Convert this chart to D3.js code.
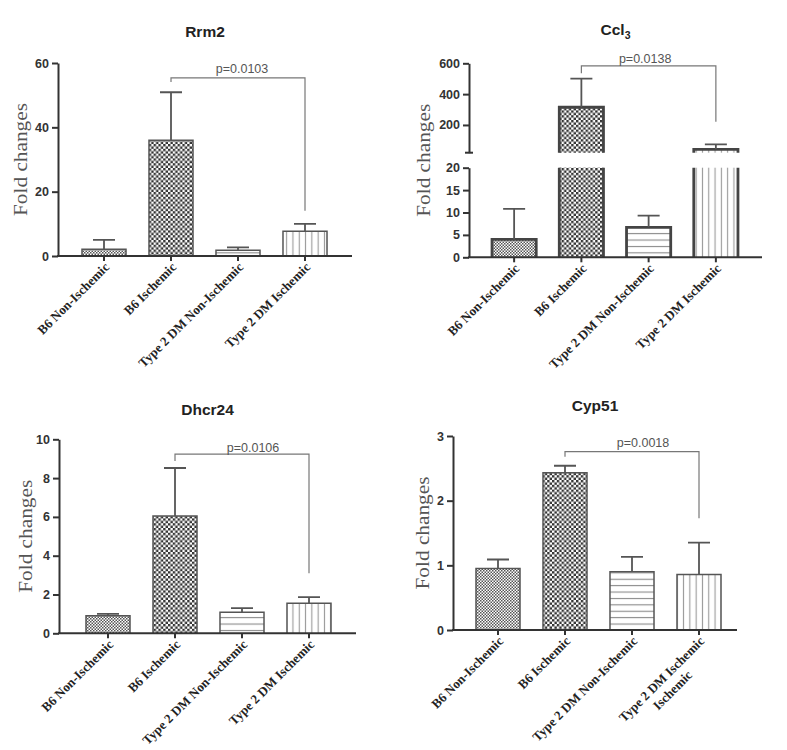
<!DOCTYPE html>
<html><head><meta charset="utf-8">
<script src="https://cdn.jsdelivr.net/npm/d3@7"></script>
<style>body{margin:0;background:#fff} svg{display:block}</style>
</head><body><svg id="c" width="787" height="750"></svg>
<script>
const categories = ["B6 Non-Ischemic","B6 Ischemic","Type 2 DM Non-Ischemic","Type 2 DM Ischemic"];
const cyp51Labels = ["B6 Non-Ischemic","B6 Ischemic","Type 2 DM Non-Ischemic","Type 2 DM Ischemic|Ischemic"];
const rrm2Mean = [2.1, 36.0, 1.8, 7.7];
const rrm2Err  = [2.9, 14.9, 0.9, 2.3];
const ccl3Mean = [4.0, 315, 6.7, 42];
const ccl3Err  = [6.8, 185, 2.6, 32];
const dhcr24Mean = [0.91, 6.05, 1.08, 1.55];
const dhcr24Err  = [0.09, 2.47, 0.22, 0.31];
const cyp51Mean = [0.95, 2.43, 0.90, 0.86];
const cyp51Err  = [0.14, 0.11, 0.23, 0.49];
const rrm2Ticks = [0,20,40,60];
const ccl3LowTicks = [0,5,10,15,20];
const ccl3HighTicks = [200,400,600];
const dhcr24Ticks = [0,2,4,6,8,10];
const cyp51Ticks = [0,1,2,3];
const pLabels = ["p=0.0103","p=0.0138","p=0.0106","p=0.0018"];
// [bar a, bar b, line value, left leg end, right leg end]
const rrm2Bracket = [1,3,55.4,54.1,14.1];
const ccl3Bracket = [1,3,583,535,221];
const dhcr24Bracket = [1,3,9.24,8.88,3.09];
const cyp51Bracket = [1,3,2.757,2.68,1.727];

const svg = d3.select("#c");
const defs = svg.append("defs");
function checker(id, s, color){
  const p = defs.append("pattern").attr("id",id).attr("patternUnits","userSpaceOnUse")
    .attr("width",s*2).attr("height",s*2);
  p.append("rect").attr("width",s*2).attr("height",s*2).attr("fill","#fff");
  p.append("rect").attr("width",s).attr("height",s).attr("fill",color);
  p.append("rect").attr("x",s).attr("y",s).attr("width",s).attr("height",s).attr("fill",color);
}
checker("fine",1.5,"#555");
checker("coarse",2.4,"#333");
{
  const p = defs.append("pattern").attr("id","hl").attr("patternUnits","userSpaceOnUse").attr("width",8).attr("height",6.4);
  p.append("rect").attr("width",8).attr("height",6.4).attr("fill","#fff");
  p.append("rect").attr("y",2.7).attr("width",8).attr("height",1.1).attr("fill","#888");
  const q = defs.append("pattern").attr("id","vl").attr("patternUnits","userSpaceOnUse").attr("width",6.3).attr("height",8);
  q.append("rect").attr("width",6.3).attr("height",8).attr("fill","#fff");
  q.append("rect").attr("x",2.6).attr("width",1.1).attr("height",8).attr("fill","#999");
}
const fills = ["url(#fine)","url(#coarse)","url(#hl)","url(#vl)"];

const panels = [
 {title:"Rrm2", mean:rrm2Mean, err:rrm2Err, segs:[{d:[0,60], r:[256,63], ticks:rrm2Ticks}],
  x0:58, x1:352, band:[70.5,338.5], titleY:37, ylx:27, bracket:rrm2Bracket, p:pLabels[0], pdx:4, pdy:-4.7, sw:1.5, stroke:"#555", labels:categories},
 {title:"Ccl", sub:"3", mean:ccl3Mean, err:ccl3Err,
  segs:[{d:[0,20], r:[257.3,167.7], ticks:ccl3LowTicks},{d:[20,600], r:[152.7,63.3], ticks:ccl3HighTicks, brk:true}],
  x0:469, x1:762, band:[480.5,749.5], titleY:35, ylx:430, bracket:ccl3Bracket, p:pLabels[1], pdx:-3.5, pdy:-2.7, sw:2.8, stroke:"#444", labels:categories},
 {title:"Dhcr24", mean:dhcr24Mean, err:dhcr24Err, segs:[{d:[0,10], r:[633.3,439.3], ticks:dhcr24Ticks}],
  x0:59, x1:356, band:[74.5,342.5], titleY:414.5, ylx:31.5, bracket:dhcr24Bracket, p:pLabels[2], pdx:11, pdy:-2.3, sw:1.5, stroke:"#555", labels:categories},
 {title:"Cyp51", mean:cyp51Mean, err:cyp51Err, segs:[{d:[0,3], r:[630,436], ticks:cyp51Ticks}],
  x0:453, x1:737, band:[464.5,732.5], titleY:411, ylx:429, bracket:cyp51Bracket, p:pLabels[3], pdx:11, pdy:-5, sw:1.5, stroke:"#555", labels:cyp51Labels}
];

panels.forEach(P => {
  const g = svg.append("g");
  P.segs.forEach(s => s.scale = d3.scaleLinear().domain(s.d).range(s.r));
  const yOf = v => { let s = P.segs[0]; P.segs.forEach(t => { if (v >= t.d[0]) s = t; }); return s.scale(v); };
  const yBot = P.segs[0].r[0];
  const x = d3.scaleBand().domain(categories).range(P.band).paddingInner(0.343).paddingOuter(0.1715);
  const bw = x.bandwidth();

  // bars
  categories.forEach((c, i) => {
    const m = P.mean[i], bx = x(c);
    P.segs.forEach((s, si) => {
      const lo = s.d[0];
      if (si > 0 && m <= lo) return;
      const top = Math.min(m, s.d[1]);
      const y1 = s.scale(lo), y2 = s.scale(top);
      g.append("rect").attr("x",bx).attr("y",y2).attr("width",bw).attr("height",y1-y2).attr("fill",fills[i]);
      const ends = m <= s.d[1];
      const d = ends ? `M${bx},${y1}V${y2}H${bx+bw}V${y1}` : `M${bx},${y1}V${y2}M${bx+bw},${y2}V${y1}`;
      g.append("path").attr("d",d).attr("fill","none").attr("stroke",P.stroke).attr("stroke-width",P.sw);
    });
    // error bar
    const cx = bx + bw/2, yt = yOf(m), ye = yOf(m + P.err[i]);
    g.append("path").attr("d",`M${cx},${yt}V${ye}M${cx-11},${ye}H${cx+11}`)
      .attr("fill","none").attr("stroke","#555").attr("stroke-width",1.8);
  });

  // y axis segments
  P.segs.forEach(s => {
    const ax = g.append("g").attr("transform",`translate(${P.x0},0)`)
      .call(d3.axisLeft(s.scale).tickValues(s.ticks).tickFormat(d3.format("~g")).tickSize(6).tickSizeOuter(0).tickPadding(3));
    ax.selectAll("path,line").attr("stroke","#333").attr("stroke-width",2);
    ax.selectAll("text").attr("font-family","Liberation Sans, Arial, sans-serif").attr("font-weight","bold")
      .attr("font-size",12.5).attr("fill","#333");
    if (s.brk) {
      g.append("line").attr("x1",P.x0-4).attr("x2",P.x0+4).attr("y1",s.r[0]).attr("y2",s.r[0])
        .attr("stroke","#333").attr("stroke-width",2);
    }
  });

  // x axis
  g.append("line").attr("x1",P.x0-1).attr("x2",P.x1).attr("y1",yBot).attr("y2",yBot).attr("stroke","#333").attr("stroke-width",2);
  const xa = g.append("g").attr("transform",`translate(0,${yBot})`)
    .call(d3.axisBottom(x).tickSize(5).tickSizeOuter(0));
  xa.select(".domain").remove();
  xa.selectAll("line").attr("stroke","#333").attr("stroke-width",2);
  xa.selectAll("text").remove();
  xa.selectAll(".tick").each(function(c, i){
    const lines = P.labels[i].split("|");
    const t = d3.select(this).append("g").attr("transform","translate(6,12) rotate(-45)");
    const first = t.append("text").attr("text-anchor","end").text(lines[0])
      .attr("font-family","Liberation Serif, Times New Roman, serif").attr("font-weight","bold").attr("font-size",13).attr("fill","#222");
    if (lines.length > 1) {
      const w = first.node().getComputedTextLength();
      t.append("text").attr("text-anchor","middle").attr("x",-w/2).attr("y",15.5).text(lines[1])
        .attr("font-family","Liberation Serif, Times New Roman, serif").attr("font-weight","bold").attr("font-size",13).attr("fill","#222");
    }
  });

  // title
  const tt = g.append("text").attr("x",(P.x0+P.x1)/2).attr("y",P.titleY).attr("text-anchor","middle")
    .attr("font-family","Liberation Sans, Arial, sans-serif").attr("font-weight","bold").attr("font-size",15.5).attr("fill","#222");
  tt.append("tspan").text(P.title);
  if (P.sub) tt.append("tspan").attr("dy",4).attr("font-size",10.5).text(P.sub);

  // y label
  const top = P.segs[P.segs.length-1].r[1];
  g.append("text").attr("transform",`translate(${P.ylx},${(yBot+top)/2}) rotate(-90)`).attr("text-anchor","middle")
    .attr("font-family","Liberation Serif, Times New Roman, serif").attr("font-size",19).attr("fill","#555")
    .attr("textLength",113).attr("lengthAdjust","spacingAndGlyphs").text("Fold changes");

  // bracket
  const [a, b, lv, le, re] = P.bracket;
  const ca = x(categories[a]) + bw/2, cb = x(categories[b]) + bw/2;
  g.append("path").attr("d",`M${ca},${yOf(le)}V${yOf(lv)}H${cb}V${yOf(re)}`)
    .attr("fill","none").attr("stroke","#777").attr("stroke-width",1.2);
  g.append("text").attr("x",(ca+cb)/2 + P.pdx).attr("y",yOf(lv) + P.pdy).attr("text-anchor","middle")
    .attr("font-family","Liberation Sans, Arial, sans-serif").attr("font-size",12.5).attr("fill","#555").text(P.p);
});
</script>
</body></html>
